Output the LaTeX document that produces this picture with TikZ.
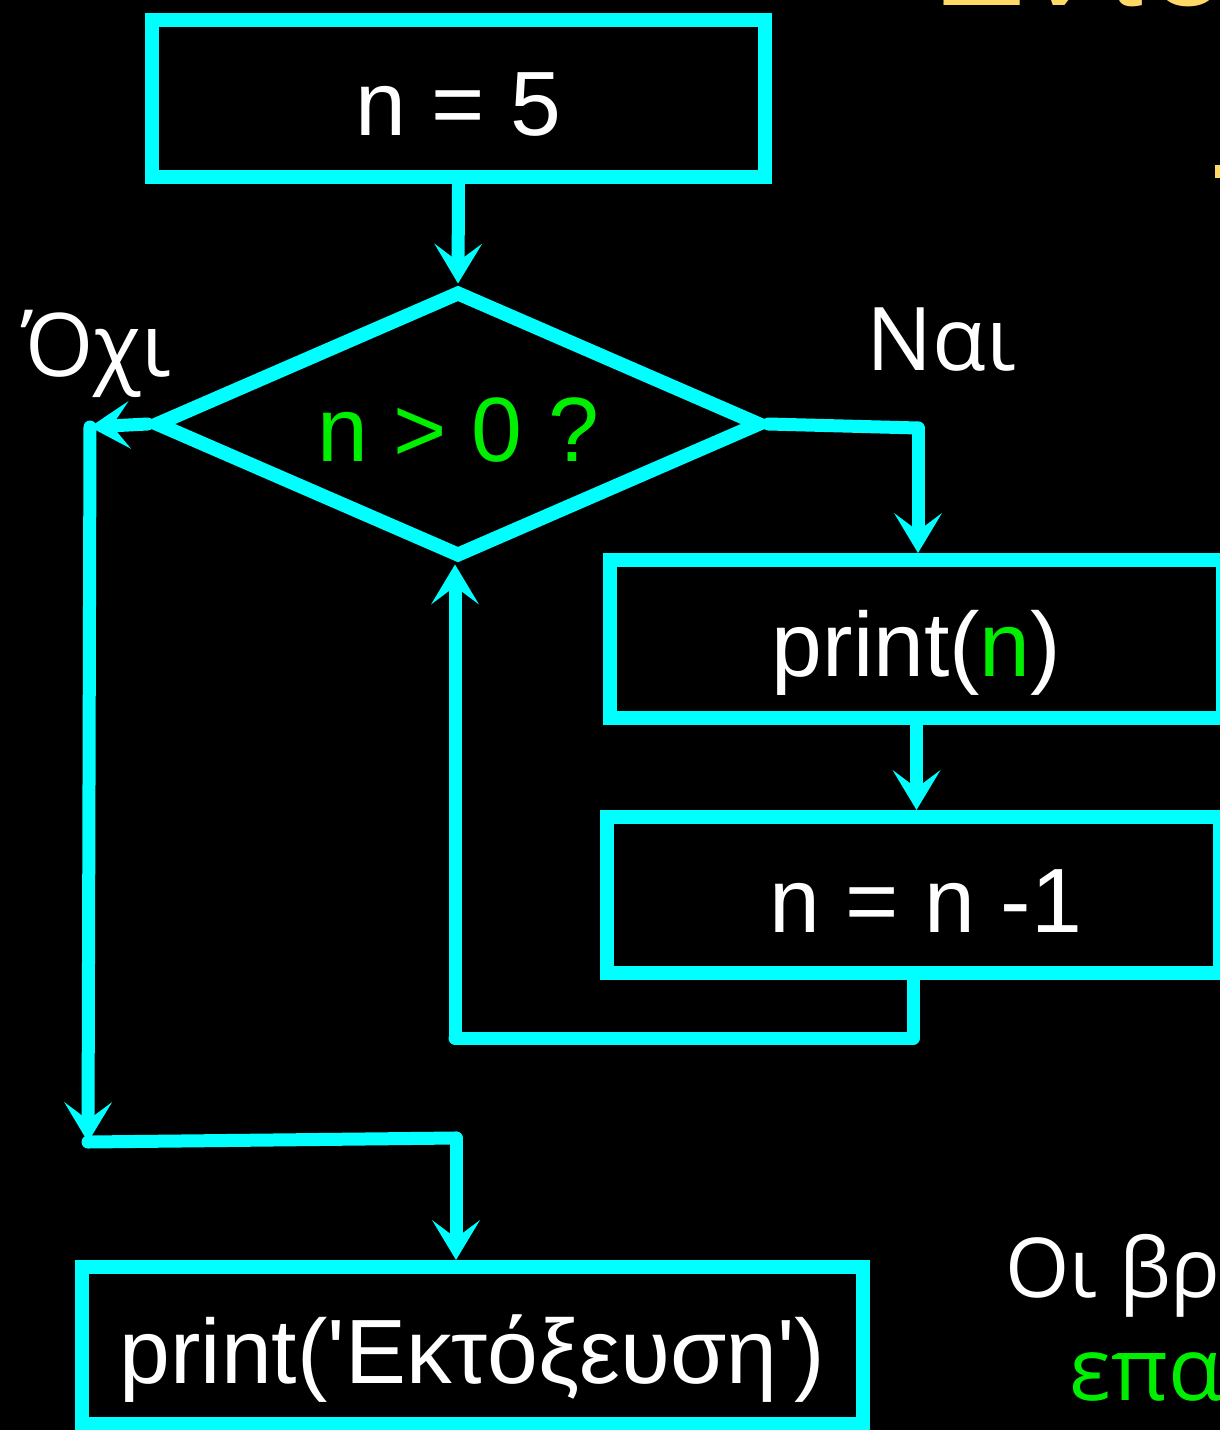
\documentclass[tikz,border=0pt]{standalone}
\usepackage{fontspec}
\setmainfont{Liberation Sans}
\newfontfamily\boxfont{Liberation Sans}
\newfontfamily\notefont{Open Sans}
\usetikzlibrary{shapes.geometric, arrows.meta, positioning, calc}
\definecolor{flowCyan}{HTML}{00FFFF}
\definecolor{flowGreen}{HTML}{00EE00}
\definecolor{titleYellow}{HTML}{FFD966}

\begin{document}
\begin{tikzpicture}[x=0.02cm, y=-0.02cm,
    flowline/.style={draw=flowCyan, line width=7.4pt, line cap=round, line join=round},
    flowarrow/.style={flowline, -{Stealth[length=0.8cm, width=0.96cm, inset=0.36cm, line width=0pt]}},
    flowbox/.style={draw=flowCyan, line width=8pt, fill=black, inner sep=0pt,
      minimum width=12.26cm, minimum height=3.14cm, text=white,
      font=\boxfont\fontsize{52}{60}\selectfont, text height=1.5cm, text depth=0pt},
    choice/.style={font=\notefont\fontsize{50}{60}\selectfont, text=white, inner sep=0pt}]
  \useasboundingbox (0,0) rectangle (1220,1430);
  \fill[black] (0,0) rectangle (1220,1430);
  \clip (0,0) rectangle (1220,1430);

  % slide text cut by the frame
  \node[anchor=base west, inner sep=0pt, text=titleYellow,
    font=\fontsize{80}{90}\selectfont] (title) at (932,6) {Εντο};
  \fill[titleYellow] (1215,165) rectangle (1222,178);
  \node[choice, anchor=base west, font=\notefont\fontsize{47}{56}\selectfont] (note) at (1005,1297) {Οι βρ};
  \node[choice, anchor=base west, text=flowGreen] (noteb) at (1069,1400) {επα};

  % flowchart
  \node[flowbox, minimum height=3.14cm] (start) at (458.5,98.5) {n = 5};
  \node[flowbox, shape=diamond, aspect=2.27, minimum width=12.14cm, minimum height=5.34cm,
    text=flowGreen] (test) at (458,424) {n > 0 ?};
  \node[flowbox, minimum height=3.16cm] (show) at (916.5,639) {print(\textcolor{flowGreen}{n})};
  \node[flowbox, minimum height=3.12cm] (dec) at (913.5,895) {\hspace{0.5cm}n = n -1};
  \node[flowbox, minimum width=15.62cm] (fire) at (472.5,1345.5) {print('Εκτόξευση')};

  \node[choice, anchor=base west] (no) at (22,376) {Όχι};
  \node[choice, anchor=base west] (yes) at (866,370) {Ναι};

  \coordinate (noL) at (90,427);
  \coordinate (noJ) at (88,1142);
  \coordinate (fireIn) at (456,1138);
  \coordinate (yesR) at (918,428);
  \coordinate (back) at (455,1038);

  \draw[flowarrow] (start.south) -- (test.north);
  \draw[flowarrow] (test.west) -- (noL);
  \draw[flowarrow] (noL) -- (noJ);
  \draw[flowline] (noJ) -- (fireIn);
  \draw[flowarrow] (fireIn) -- (fireIn |- fire.north);
  \draw[flowline] (test.east) -- (yesR);
  \draw[flowarrow] (yesR) -- (yesR |- show.north);
  \draw[flowarrow] (show.south) -- (show.south |- dec.north);
  \draw[flowline] (dec.south) |- (back);
  \draw[flowarrow] (back) -- (back |- test.south);
\end{tikzpicture}
\end{document}
